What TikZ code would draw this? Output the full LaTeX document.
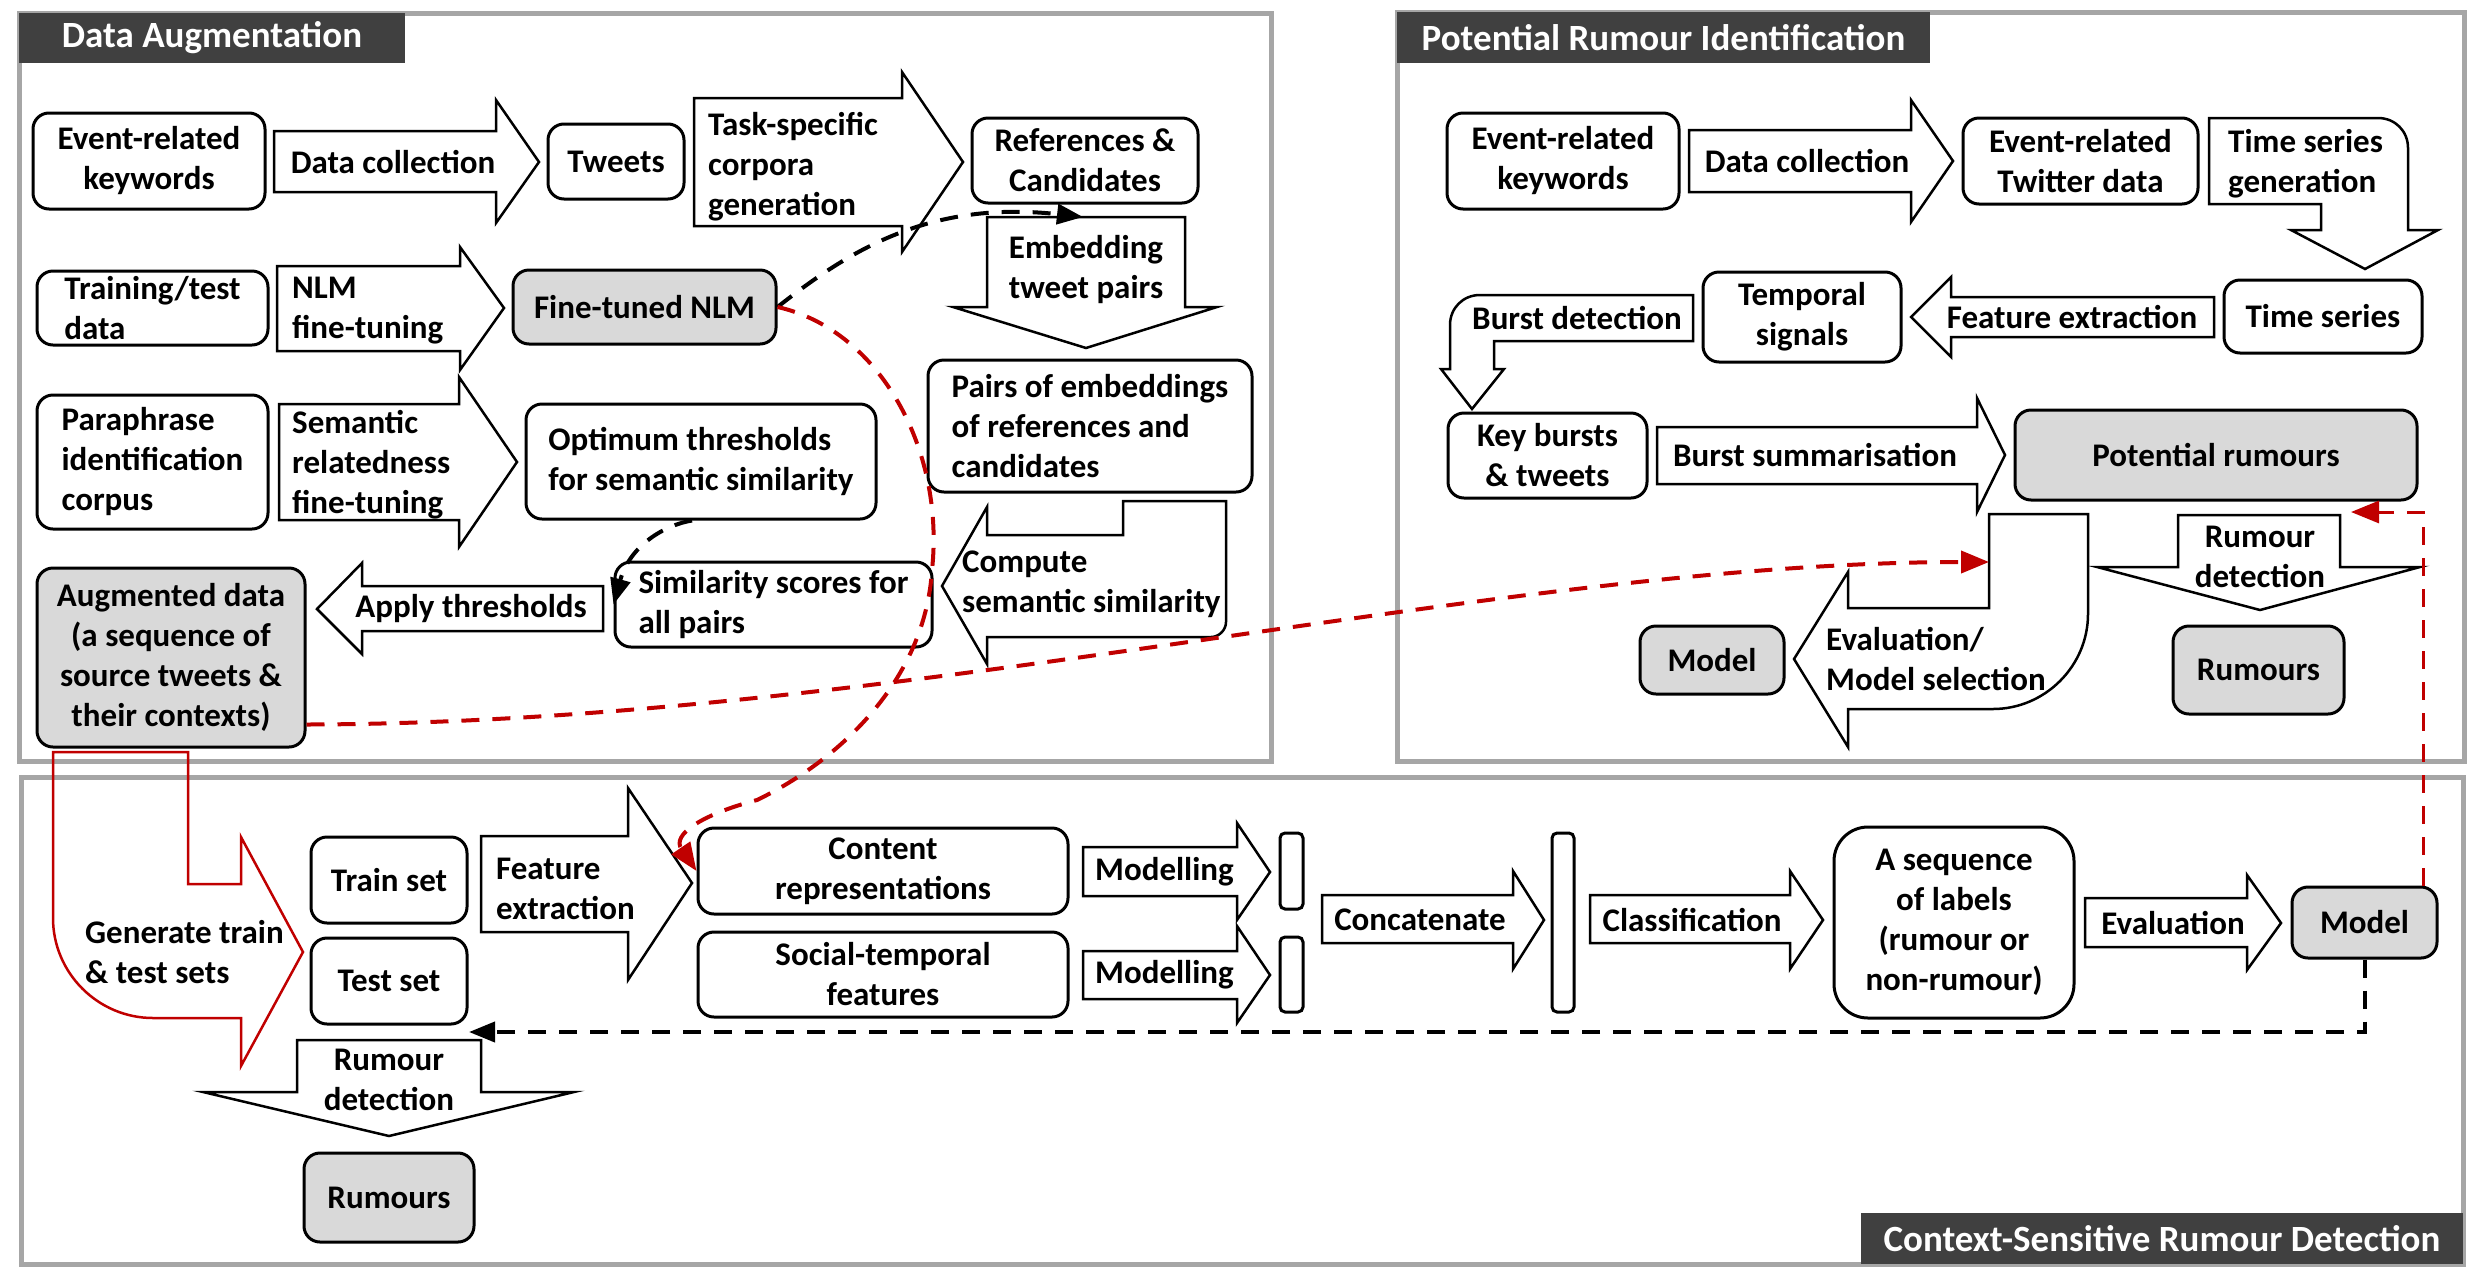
\documentclass[tikz,border=0pt]{standalone}
\usepackage{fontspec}
\setmainfont{Carlito}
\usetikzlibrary{arrows.meta,fit,calc}
\definecolor{frm}{HTML}{A6A6A6}
\definecolor{hdr}{HTML}{404040}
\definecolor{gfill}{HTML}{D9D9D9}
\definecolor{rd}{HTML}{C00000}
\tikzset{
 every node/.style={font=\fontsize{33}{40}\selectfont\bfseries},
 sz/.style 2 args={minimum width=#1pt, minimum height=#2pt},
 box/.style={draw, line width=3pt, rounded corners=16pt, fill=white, inner sep=0pt, align=center},
 lbox/.style={box, align=left},
 gbox/.style={box, fill=gfill},
 arr/.style={draw, line width=2.5pt, fill=white, line join=miter},
 lbl/.style={inner sep=0pt, align=center},
 llbl/.style={inner sep=0pt, align=left, anchor=west},
 frame/.style={draw=frm, line width=5pt},
 hbox/.style={fill=hdr, text=white, inner sep=0pt, font=\fontsize{37}{44}\selectfont\bfseries},
 kdash/.style={draw=black, line width=4pt, dash pattern=on 18pt off 13pt, -{Triangle[length=26pt,width=20pt]}},
 rdash/.style={draw=rd, line width=4pt, dash pattern=on 18pt off 13pt, -{Triangle[length=28pt,width=22pt]}},
 bar/.style={draw, line width=3pt, rounded corners=5pt, fill=white, inner sep=0pt},
}
\newcommand{\RArr}[8]{\draw[arr] (#1,#4) -- (#2,#4) -- (#2,#6) -- (#3,#8) -- (#2,#7) -- (#2,#5) -- (#1,#5) -- cycle;}
\newcommand{\DArr}[8]{\draw[arr] (#4,#1) -- (#5,#1) -- (#5,#2) -- (#7,#2) -- (#8,#3) -- (#6,#2) -- (#4,#2) -- cycle;}
\begin{document}
\begin{tikzpicture}[x=1pt,y=-1pt]
\useasboundingbox (0,0) rectangle (2475,1275);
% frames
\draw[frame] (19,13) rectangle (1271,761);
\draw[frame] (1397,12) rectangle (2464,761);
\draw[frame] (21,777) rectangle (2463,1264);
\node[hbox, sz={386}{50}] (hDA) at (212,38) {Data Augmentation};
\node[hbox, sz={533}{51}] (hPRI) at (1663.5,37.5) {Potential Rumour Identification};
\node[hbox, sz={602}{51}] (hCSRD) at (2162,1238.5) {Context-Sensitive Rumour Detection};

% ---------- Data Augmentation ----------
\node[box, sz={232}{96}] (ek1) at (149,161) {Event-related\\keywords};
\RArr{274}{496}{539}{131}{192}{100}{223}{162}
\node[lbl] (tdc1) at (393,162) {Data collection};
\node[box, sz={136}{75}] (tw) at (616,161.5) {Tweets};
\RArr{694}{902}{963}{98}{226}{72}{252}{162}
\node[llbl] (ttsc) at (708,167) {Task-specific\\corpora\\generation};
\node[box, sz={226}{85}] (rc) at (1085,160.5) {References \&\\Candidates};
\DArr{217}{307}{348}{987}{1185}{953}{1217}{1086}
\node[lbl] (temb) at (1086,270) {Embedding\\tweet pairs};
\coordinate (embtop) at (1083,217);

\node[lbox, sz={231}{74}] (tt) at (152.5,308) {Training/test\\data};
\RArr{277}{460}{504}{266}{351}{247}{370}{308}
\node[llbl] (tnlm) at (292,311) {NLM\\fine-tuning};
\node[gbox, sz={263}{74}] (nlm) at (644.5,307) {Fine-tuned NLM};

\node[lbox, sz={231}{134}] (pic) at (152.5,462) {Paraphrase\\identification\\corpus};
\RArr{279}{459}{517}{404}{520}{377}{547}{462}
\node[llbl] (tsem) at (292,465) {Semantic\\relatedness\\fine-tuning};
\node[lbox, sz={350}{115}] (opt) at (701,461.5) {Optimum thresholds\\for semantic similarity};

\node[lbox, sz={324}{132}] (pe) at (1090,426) {Pairs of embeddings\\of references and\\candidates};
\draw[arr] (1123,501) -- (1226,501) -- (1226,622) .. controls (1226,630) and (1219,637) .. (1211,637) -- (987,637) -- (987,664) -- (942,586) -- (987,507) -- (987,535) -- (1123,535) -- cycle;
\node[llbl] (tcmp) at (962,584) {Compute\\semantic similarity};
\node[lbox, sz={317}{85}] (sim) at (773.5,604.5) {Similarity scores for\\all pairs};
\RArr{603}{362}{317}{586}{631}{563}{654}{609}
\node[lbl] (tapp) at (471,609) {Apply thresholds};
\node[gbox, sz={268}{179}] (aug) at (171,657.5) {Augmented data\\(a sequence of\\source tweets \&\\their contexts)};

% ---------- Potential Rumour Identification ----------
\node[box, sz={232}{96}] (ek2) at (1563,161) {Event-related\\keywords};
\RArr{1689}{1911}{1953}{130}{192}{100}{222}{161}
\node[lbl] (tdc2) at (1807,161) {Data collection};
\node[box, sz={235}{86}] (etd) at (2080.5,161) {Event-related\\Twitter data};
\draw[arr] (2209,118) -- (2378,118) .. controls (2395,118) and (2408,131) .. (2408,148) -- (2408,230) -- (2438,230) -- (2365,269) -- (2291,230) -- (2321,230) -- (2321,204) -- (2209,204) -- cycle;
\node[llbl] (ttsg) at (2228,164) {Time series\\generation};
\node[box, sz={198}{73}] (ts) at (2323,316.5) {Time series};
\RArr{2214}{1951}{1911}{297}{337}{277}{357}{317}
\node[lbl] (tfe1) at (2072,317) {Feature extraction};
\node[box, sz={198}{90}] (tsig) at (1802,317) {Temporal\\signals};
\draw[arr] (1693,295) -- (1480,295) .. controls (1463,295) and (1450,308) .. (1450,325) -- (1450,369) -- (1441,369) -- (1472,409) -- (1504,369) -- (1494,369) -- (1494,341) -- (1693,341) -- cycle;
\node[lbl] (tbd) at (1577,318) {Burst detection};
\node[box, sz={199}{85}] (kb) at (1547.5,455.5) {Key bursts\\\& tweets};
\RArr{1657}{1977}{2005}{427}{484}{398}{512}{455}
\node[lbl] (tbs) at (1815,455) {Burst summarisation};
\node[gbox, sz={402}{90}] (pr) at (2216,455) {Potential rumours};
\draw[arr] (1989,514) -- (2088,514) -- (2088,614) .. controls (2088,666) and (2045,709) .. (1993,709) -- (1848,709) -- (1848,747) -- (1794,659) -- (1848,572) -- (1848,608) -- (1989,608) -- cycle;
\node[llbl] (tev1) at (1826,659) {Evaluation/\\Model selection};
\coordinate (evtgt) at (1989,562);
\node[gbox, sz={144}{68}] (mod1) at (1712,660) {Model};
\DArr{515}{567}{610}{2178}{2340}{2097}{2420}{2260}
\node[lbl] (trd1) at (2260,557) {Rumour\\detection};
\node[gbox, sz={171}{88}] (rum1) at (2258.5,670) {Rumours};
\coordinate (prtip) at (2351,512);

% ---------- Context-Sensitive Rumour Detection ----------
\draw[draw=rd, line width=2.5pt] (188,752) -- (53,752) -- (53,918) .. controls (53,973) and (98,1018) .. (153,1018) -- (241,1018) -- (241,1066) -- (303,952) -- (241,837) -- (241,884) -- (188,884) -- cycle;
\node[llbl] (tgen) at (85,952) {Generate train\\\& test sets};
\node[box, sz={156}{86}] (trs) at (389,880) {Train set};
\node[box, sz={156}{86}] (tes) at (389,981) {Test set};
\RArr{481}{628}{692}{836}{932}{788}{980}{883}
\node[llbl] (tfe2) at (496,889) {Feature\\extraction};
\node[box, sz={370}{86}] (cr) at (883,871) {Content\\representations};
\node[box, sz={370}{85}] (stf) at (883,974.5) {Social-temporal\\features};
\RArr{1083}{1237}{1270}{847}{896}{823}{920}{872}
\node[llbl] (tm1) at (1095,872) {Modelling};
\RArr{1083}{1237}{1270}{951}{999}{926}{1023}{975}
\node[llbl] (tm2) at (1095,975) {Modelling};
\node[bar, fit={(1280,833) (1303,909)}] (b1) {};
\node[bar, fit={(1280,937) (1303,1012)}] (b2) {};
\RArr{1322}{1513}{1544}{895}{943}{871}{969}{920}
\node[lbl] (tcat) at (1420,920) {Concatenate};
\node[bar, fit={(1552,833) (1574,1012)}] (b3) {};
\RArr{1590}{1790}{1823}{895}{943}{871}{969}{920}
\node[lbl] (tcls) at (1692,920) {Classification};
\node[box, rounded corners=34pt, sz={240}{191}] (seq) at (1954,922.5) {A sequence\\of labels\\(rumour or\\non-rumour)};
\RArr{2085}{2247}{2281}{898}{947}{875}{970}{923}
\node[lbl] (tev2) at (2173,923) {Evaluation};
\node[gbox, sz={145}{71}] (mod2) at (2364.5,922.5) {Model};
\DArr{1040}{1092}{1136}{297}{481}{203}{574}{389}
\node[lbl] (trd2) at (389,1080) {Rumour\\detection};
\node[gbox, sz={170}{89}] (rum2) at (389,1197.5) {Rumours};
\coordinate (testtip) at (469,1032);

% ---------- connectors ----------
\draw[kdash] (nlm.east) .. controls (850,250) and (930,200) .. (embtop);
\draw[kdash] ([xshift=-9pt]opt.south) .. controls (665,525) and (630,545) .. (sim.west);
\draw[kdash] (mod2.south) |- (testtip);
\draw[rdash] (nlm.east) .. controls (880,330) and (945,450) .. (932,570) .. controls (925,680) and (840,760) .. (757,800) .. controls (700,815) and (672,835) .. (cr.west);
\draw[rdash] ([yshift=24pt]aug.south east) .. controls (900,723) and (1500,562) .. (evtgt);
\draw[rdash, line width=3pt] ([xshift=-15pt]mod2.north east) |- (prtip);
\end{tikzpicture}
\end{document}
